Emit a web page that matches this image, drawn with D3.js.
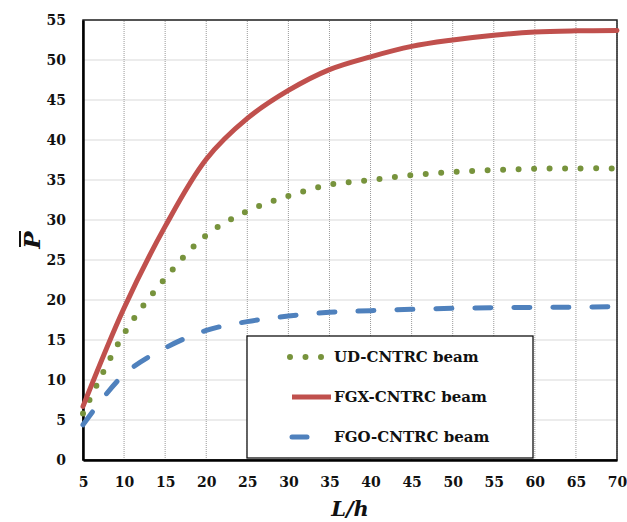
<!DOCTYPE html>
<html>
<head>
<meta charset="utf-8">
<script src="https://cdn.jsdelivr.net/npm/d3@7"></script>
<style>
  body { margin: 0; background: #fff; }
  svg { display: block; }
  text { font-family: "DejaVu Serif", serif; font-weight: bold; fill: #111; }
</style>
</head>
<body>
<div id="chart"></div>
<script>
// L/h values
var lh = [5, 10, 15, 20, 25, 30, 35, 40, 45, 50, 55, 60, 65, 70];
// critical buckling load P-bar
var ud  = [5.8, 15.8, 22.7, 28.1, 31.1, 33.0, 34.4, 35.0, 35.6, 36.0, 36.25, 36.4, 36.45, 36.45];
var fgx = [6.7, 19.0, 29.2, 37.6, 42.7, 46.2, 48.8, 50.4, 51.7, 52.5, 53.1, 53.5, 53.65, 53.7];
var fgo = [4.4, 10.7, 14.0, 16.2, 17.3, 18.0, 18.46, 18.67, 18.83, 18.96, 19.04, 19.08, 19.1, 19.17];
var xTicks = [5, 10, 15, 20, 25, 30, 35, 40, 45, 50, 55, 60, 65, 70];
var yTicks = [0, 5, 10, 15, 20, 25, 30, 35, 40, 45, 50, 55];
var seriesNames = ["UD-CNTRC beam", "FGX-CNTRC beam", "FGO-CNTRC beam"];

var width = 627, height = 522;
var margin = {top: 20, right: 10, bottom: 62, left: 83};

var svg = d3.select("#chart").append("svg")
    .attr("width", width)
    .attr("height", height);

var x = d3.scaleLinear().domain([5, 70]).range([margin.left, width - margin.right]);
var y = d3.scaleLinear().domain([0, 55]).range([height - margin.bottom, margin.top]);

// grid
svg.append("g").selectAll("line.h")
    .data(yTicks)
  .enter().append("line")
    .attr("x1", x(5)).attr("x2", x(70))
    .attr("y1", function(d) { return y(d); })
    .attr("y2", function(d) { return y(d); })
    .attr("stroke", "#d9d9d9")
    .attr("stroke-width", 1.2);

svg.append("g").selectAll("line.v")
    .data(xTicks)
  .enter().append("line")
    .attr("y1", y(0)).attr("y2", y(55))
    .attr("x1", function(d) { return x(d); })
    .attr("x2", function(d) { return x(d); })
    .attr("stroke", "#999")
    .attr("stroke-width", 1)
    .attr("stroke-dasharray", "1,1");

// frame
svg.append("rect")
    .attr("x", x(5)).attr("y", y(55))
    .attr("width", x(70) - x(5))
    .attr("height", y(0) - y(55))
    .attr("fill", "none")
    .attr("stroke", "#222")
    .attr("stroke-width", 1.5);

// axes
var xAxis = svg.append("g")
    .attr("transform", "translate(0," + y(0) + ")")
    .call(d3.axisBottom(x).tickValues(xTicks).tickSize(0).tickPadding(17));
var yAxis = svg.append("g")
    .attr("transform", "translate(" + x(5) + ",0)")
    .call(d3.axisLeft(y).tickValues(yTicks).tickSize(0).tickPadding(17));

[xAxis, yAxis].forEach(function(a) {
  a.select(".domain").attr("stroke", "#000").attr("stroke-width", 2.5);
  a.selectAll("text")
      .attr("font-family", "DejaVu Serif")
      .attr("font-weight", "bold")
      .attr("font-size", "14px")
      .attr("fill", "#111");
});

// lines
var styles = [
  {data: ud,  color: "#77933c", width: 6, dash: "0,15.5"},
  {data: fgx, color: "#c0504d", width: 5, dash: null},
  {data: fgo, color: "#4f81bd", width: 5, dash: "16,23"}
];

var line = d3.line()
    .x(function(d) { return x(d[0]); })
    .y(function(d) { return y(d[1]); })
    .curve(d3.curveCatmullRom.alpha(0.5));

// draw order: blue, green, red on top
[2, 0, 1].forEach(function(i) {
  var s = styles[i];
  svg.append("path")
      .datum(lh.map(function(v, j) { return [v, s.data[j]]; }))
      .attr("d", line)
      .attr("fill", "none")
      .attr("stroke", s.color)
      .attr("stroke-width", s.width)
      .attr("stroke-linecap", "round")
      .attr("stroke-dasharray", s.dash);
});

// legend
var legend = svg.append("g").attr("transform", "translate(247,336)");
legend.append("rect")
    .attr("width", 286).attr("height", 122)
    .attr("fill", "#fff")
    .attr("stroke", "#111")
    .attr("stroke-width", 1.3);

var items = legend.selectAll("g.item")
    .data(styles)
  .enter().append("g")
    .attr("transform", function(d, i) { return "translate(0," + (21 + i * 40) + ")"; });

items.append("line")
    .attr("x1", function(d, i) { return i == 0 ? 43 : 45; })
    .attr("x2", 84)
    .attr("stroke", function(d) { return d.color; })
    .attr("stroke-width", function(d) { return d.width; })
    .attr("stroke-linecap", function(d, i) { return i == 1 ? "butt" : "round"; })
    .attr("stroke-dasharray", function(d, i) { return i == 2 ? "15,100" : d.dash; });

items.append("text")
    .attr("x", 87)
    .attr("dy", "0.35em")
    .attr("font-size", "15px")
    .text(function(d, i) { return seriesNames[i]; });

// axis titles
svg.append("text")
    .attr("x", 350).attr("y", 516)
    .attr("text-anchor", "middle")
    .attr("font-size", "21px")
    .attr("font-style", "italic")
    .text("L/h");

var py = svg.append("g").attr("transform", "translate(40,240) rotate(-90)");
py.append("text")
    .attr("text-anchor", "middle")
    .attr("font-size", "23px")
    .attr("font-style", "italic")
    .text("P");
py.append("line")
    .attr("x1", -7).attr("x2", 9)
    .attr("y1", -20).attr("y2", -20)
    .attr("stroke", "#111")
    .attr("stroke-width", 2);
</script>
</body>
</html>
